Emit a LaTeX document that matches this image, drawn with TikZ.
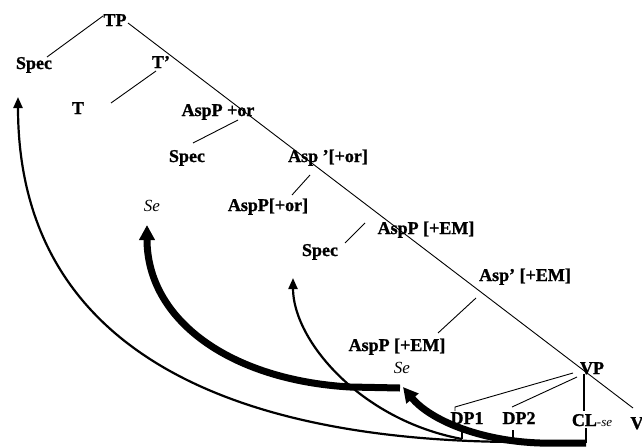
\documentclass[tikz,border=0pt]{standalone}
\usepackage{fontspec}
\setmainfont{Liberation Serif}[BoldFeatures={FakeBold=1.2}]
\usetikzlibrary{arrows.meta}
\begin{document}
\begin{tikzpicture}[x=1pt,y=-1pt,
  lab/.style={font=\fontsize{18}{18}\selectfont\bfseries, inner sep=0pt, anchor=base},
  itl/.style={font=\fontsize{17}{17}\selectfont\itshape, inner sep=0pt, anchor=base},
  branch/.style={line width=0.9pt},
  thinmove/.style={line width=2.2pt, -{Triangle[length=11pt,width=9pt]}},
  thickmove/.style={line width=7pt, -{Triangle[length=15pt,width=15pt]}},
]
\useasboundingbox (0,0) rectangle (642,447);
% labels
\node[lab] (TP) at (115,26) {TP};
\node[lab] (SpecTP) at (34,69) {Spec};
\node[lab] (Tbar) at (161,68) {T'};
\node[lab] (T) at (78,114) {T};
\node[lab] (AspPor) at (218,116) {AspP +or};
\node[lab] (SpecA) at (187,162) {Spec};
\node[lab] (Aspbar) at (328,162) {Asp '[+or]};
\node[itl] (Se1) at (152,211) {Se};
\node[lab] (AspPor2) at (268,211) {AspP[+or]};
\node[lab] (AspPEM) at (426,234) {AspP [+EM]};
\node[lab] (SpecB) at (320,256) {Spec};
\node[lab] (AspbarEM) at (525,281) {Asp' [+EM]};
\node[lab] (AspPEMlow) at (397,351) {AspP [+EM]};
\node[itl] (Se2) at (402,373) {Se};
\node[lab] (VP) at (592,374) {VP};
\node[lab] (DP1) at (467,424) {DP1};
\node[lab] (DP2) at (519,424) {DP2};
\node[lab] (CL) at (592,426) {CL\mdseries\itshape\fontsize{13}{13}\selectfont -se};
\node[lab] (V) at (637,429) {V};
% branch end points
\coordinate (tpL) at (103,16);
\coordinate (specTPr) at (47,57);
\coordinate (tpR) at (128,23);
\coordinate (vTop) at (633,408);
\coordinate (tbarB) at (156,71);
\coordinate (tTop) at (111,103);
\coordinate (aporB) at (238,120);
\coordinate (specAt) at (193,143);
\coordinate (aspbarB) at (310,175);
\coordinate (apor2T) at (292,195);
\coordinate (apemB) at (365,223);
\coordinate (specBt) at (345,243);
\coordinate (abemB) at (476,298);
\coordinate (apemlowT) at (438,333);
\coordinate (vpA) at (573,373);
\coordinate (vpB) at (577,377);
\coordinate (vpC) at (584,374);
\coordinate (dp1T) at (455,407);
\coordinate (dp1Tk) at (455,411);
\coordinate (dp2T) at (512,407);
\coordinate (clT) at (584,411);
\coordinate (dp1B) at (462,430);
\coordinate (dp1Bk) at (462,439);
\coordinate (dp2B) at (513,430);
\coordinate (dp2Bk) at (513,442);
\coordinate (clB) at (586,428);
\coordinate (clBk) at (586,443);
\coordinate (spec1foot) at (18,97);
\coordinate (specBfoot) at (293,278);
\coordinate (se1foot) at (147,225);
\coordinate (se2foot) at (403,387);
\coordinate (se2tail) at (400,388);
% tree branches
\draw[branch] (tpL) -- (specTPr);
\draw[branch] (tpR) -- (vTop);
\draw[branch] (tbarB) -- (tTop);
\draw[branch] (aporB) -- (specAt);
\draw[branch] (aspbarB) -- (apor2T);
\draw[branch] (apemB) -- (specBt);
\draw[branch] (abemB) -- (apemlowT);
\draw[branch] (vpA) -- (dp1T) -- (dp1Tk);
\draw[branch] (vpB) -- (dp2T);
\draw[branch, line width=1.2pt] (vpC) -- (clT);
\draw[branch, line width=1.2pt] (dp1B) -- (dp1Bk);
\draw[branch, line width=1.2pt] (dp2B) -- (dp2Bk);
\draw[branch, line width=1.4pt] (clB) -- (clBk);
% movement arrows
\draw[thinmove] (dp2Bk) .. controls (230,440) and (18,350) .. (spec1foot);
\draw[thinmove] (dp1Bk) .. controls (360,420) and (293,340) .. (specBfoot);
\draw[thickmove] (clBk) -- (540,443) .. controls (480,441) and (430,420) .. (se2foot);
\draw[thickmove] (se2tail) -- (350,387) .. controls (230,380) and (147,320) .. (se1foot);
\end{tikzpicture}
\end{document}
